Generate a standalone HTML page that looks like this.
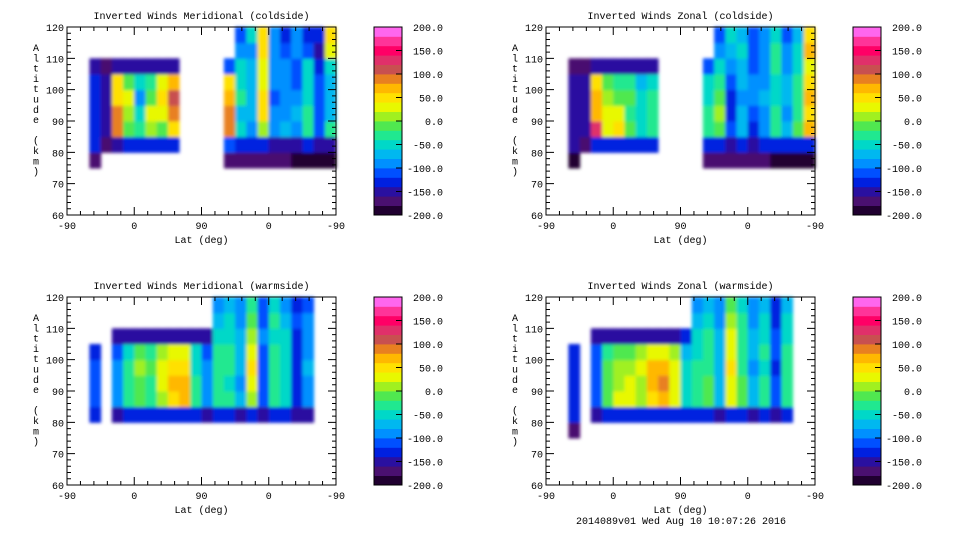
<!DOCTYPE html>
<html><head><meta charset="utf-8"><style>
body{margin:0;background:#fff;}
svg text{font-family:"Liberation Mono","DejaVu Sans Mono",monospace;font-size:10px;fill:#000;}
</style></head><body>
<svg id="chart" width="960" height="540" viewBox="0 0 960 540" xmlns="http://www.w3.org/2000/svg">
<defs><filter id="soft" x="-5%" y="-5%" width="110%" height="110%"><feGaussianBlur stdDeviation="1.6"/></filter></defs>
<text x="681" y="524" text-anchor="middle">2014089v01 Wed Aug 10 10:07:26 2016</text>
</svg>
<script>
const N = null;
// altitude bins (bottom edges, km), 5 km each
const altBins = [75,80,85,90,95,100,105,110,115];
// x position bins (0..360 covering -90..90..-90), 15 each
const xBins = [0,15,30,45,60,75,90,105,120,135,150,165,180,195,210,225,240,255,270,285,300,315,330,345];
const yTicks = [60,70,80,90,100,110,120];
const xTickLabels = ['-90','0','90','0','-90'];
const cbTicks = [200,150,100,50,0,-50,-100,-150,-200];
const titles = ['Inverted Winds Meridional (coldside)','Inverted Winds Zonal (coldside)','Inverted Winds Meridional (warmside)','Inverted Winds Zonal (warmside)'];
const E = [N,N,N,N,N,N,N,N,N];
// columns of values, bottom->top
const merCold = [E,E,
 [-180,-140,-130,-130,-130,-130,-150,N,N],
 [N,-170,-160,-150,-150,-150,-170,N,N],
 [N,-150,80,90,40,50,-150,N,N],
 [N,-140,-10,0,20,-10,-150,N,N],
 [N,-140,-40,-60,-90,-60,-150,N,N],
 [N,-140,0,20,-20,-40,-150,N,N],
 [N,-140,-10,30,40,20,-150,N,N],
 [N,-140,40,80,100,70,-150,N,N],
 E,E,E,E,
 [-170,-120,80,90,60,40,-120,N,N],
 [-170,-140,-60,-80,-40,-60,-60,-100,-120],
 [-180,-130,-90,-80,-70,-80,-80,-100,-60],
 [-180,-140,0,40,40,30,20,40,50],
 [-180,-150,-90,-100,-110,-100,-100,-90,-100],
 [-180,-150,-80,-90,-100,-100,-100,-120,-130],
 [-190,-150,-100,-80,-100,-110,-110,-100,-100],
 [-190,-140,-40,-40,-60,-60,-60,-120,-130],
 [-190,-150,-120,-110,-120,-110,-140,-150,-140],
 [-190,-150,-40,-80,-80,-80,-60,20,40]];
const zonCold = [E,E,
 [-190,-160,-150,-150,-150,-150,-170,N,N],
 [N,-170,-160,-150,-150,-160,-170,N,N],
 [N,-140,130,70,60,40,-150,N,N],
 [N,-140,30,20,0,-20,-150,N,N],
 [N,-140,40,20,-10,-30,-150,N,N],
 [N,-140,-20,-30,-20,-40,-150,N,N],
 [N,-140,-60,-60,-50,-70,-150,N,N],
 [N,-140,-30,-40,-40,-60,-150,N,N],
 E,E,E,E,
 [-170,-130,-40,-40,-50,-60,-120,N,N],
 [-180,-130,-10,0,-20,-30,-60,-100,-110],
 [-180,-150,-120,-140,-140,-120,-100,-80,-60],
 [-180,-140,-80,-80,-90,-80,-70,-60,-80],
 [-180,-150,-130,-120,-100,-100,-110,-120,-120],
 [-180,-140,-90,-90,-80,-90,-100,-90,-100],
 [-190,-140,-30,-30,-50,-60,-40,-40,-60],
 [-190,-140,-80,-90,-80,-80,-90,-100,-110],
 [-190,-140,-20,-40,-30,-40,-60,-60,-80],
 [-190,-140,60,40,60,50,20,60,40]];
const merWarm = [E,E,
 [N,-140,-120,-120,-120,-130,N,N,N],
 E,
 [N,-150,-100,-90,-100,-110,-160,N,N],
 [N,-140,-40,-30,-40,-50,-150,N,N],
 [N,-140,-20,-10,0,-20,-150,N,N],
 [N,-140,-30,-40,-20,-30,-150,N,N],
 [N,-140,0,20,20,0,-150,N,N],
 [N,-140,40,60,50,30,-150,N,N],
 [N,-140,60,70,50,20,-150,N,N],
 [N,-140,-40,-40,-50,-60,-150,N,N],
 [N,-150,-100,-90,-100,-110,-150,N,N],
 [N,-140,-30,-30,-40,-40,-50,-80,-100],
 [N,-140,-40,-50,-30,-40,-60,-60,-80],
 [N,-150,-80,-90,-80,-70,-80,-100,-100],
 [N,-140,0,30,40,20,0,-20,-40],
 [N,-150,-110,-110,-110,-120,-100,-110,-120],
 [N,-140,-30,-30,-40,-40,-50,-40,-60],
 [N,-140,-50,-60,-50,-50,-60,-80,-100],
 [N,-150,-140,-130,-140,-140,-130,-120,-140],
 [N,-150,-90,-90,-80,-90,-100,-100,-110],
 E,E];
const zonWarm = [E,E,
 [-180,-140,-130,-130,-130,-140,N,N,N],
 E,
 [N,-150,-120,-110,-120,-120,-160,N,N],
 [N,-140,-20,-10,-20,-40,-150,N,N],
 [N,-140,20,10,0,-20,-150,N,N],
 [N,-140,20,30,10,-10,-150,N,N],
 [N,-140,0,10,20,0,-150,N,N],
 [N,-140,40,60,60,20,-150,N,N],
 [N,-140,60,80,60,30,-150,N,N],
 [N,-140,20,30,20,0,-150,N,N],
 [N,-140,-60,-60,-60,-70,-140,N,N],
 [N,-140,-40,-40,-40,-50,-60,-80,-100],
 [N,-140,-20,-20,-30,-40,-40,-60,-80],
 [N,-150,-70,-70,-80,-70,-80,-90,-100],
 [N,-140,20,30,40,30,20,0,-20],
 [N,-140,-20,-20,-30,-30,-40,-40,-60],
 [N,-150,-80,-80,-90,-80,-80,-100,-100],
 [N,-140,-40,-40,-50,-40,-50,-60,-80],
 [N,-150,-120,-120,-130,-120,-120,-130,-140],
 [N,-140,-30,-30,-40,-40,-50,-60,-80],
 E,E];
const panelData = [merCold, zonCold, merWarm, zonWarm];
const palette = ['#200030','#4a1070','#2a10a0','#0020e0','#0050ff','#0090ff','#00b8f0','#00d8c8','#20e890','#50e850','#a0f020','#e8f800','#ffe000','#ffb800','#e88020','#c85050','#e0306a','#ff0066','#ff3399','#ff66ee'];

const svg = document.getElementById('chart');
const NS = 'http://www.w3.org/2000/svg';
function mk(tag, attrs){const e=document.createElementNS(NS,tag);for(const k in attrs)e.setAttribute(k,attrs[k]);return e;}
function colorFor(v){let i=Math.floor((v+200)/20);if(i<0)i=0;if(i>19)i=19;return palette[i];}
const origins = [[67,27],[546,27],[67,297],[546,297]];
const W=269,H=188;
panelData.forEach((cols,pi)=>{
  const [ox,oy]=origins[pi];
  const xs=p=>ox+p/360*W, ys=a=>oy+(120-a)/60*H;
  const g=mk('g',{});
  
  
  svg.appendChild(g);
  const t=mk('text',{x:ox+W/2,y:oy-8,'text-anchor':'middle'});
  
  
  t.textContent=titles[pi];g.appendChild(t);
  const cg=mk('g',{filter:'url(#soft)'});
  
  
  g.appendChild(cg);
  cols.forEach((col,ci)=>{col.forEach((v,ri)=>{if(v===null)return;
    const r=mk('rect',{x:xs(xBins[ci]),y:ys(altBins[ri]+5),width:xs(15)-xs(0)+0.5,height:ys(0)-ys(5)+0.5,fill:colorFor(v)});
    
    
    cg.appendChild(r);});});
  const fr=mk('rect',{x:ox,y:oy,width:W,height:H,fill:'none',stroke:'#000','stroke-width':1});
  
  
  g.appendChild(fr);
  let d='';
  for(let a=60;a<=120;a+=2){const y=ys(a),L=(a%10===0)?8:4;d+=`M${ox},${y}h${L}M${ox+W},${y}h${-L}`;}
  for(let p=0;p<=360;p+=18){const x=xs(p),L=(p%90===0)?8:4;d+=`M${x},${oy+H}v${-L}M${x},${oy}v${L}`;}
  const tk=mk('path',{d:d,stroke:'#000','stroke-width':1,fill:'none'});
  
  
  g.appendChild(tk);
  yTicks.forEach(a=>{const l=mk('text',{x:ox-3,y:ys(a)+4,'text-anchor':'end'});
    
    
    l.textContent=a;g.appendChild(l);});
  xTickLabels.forEach((s,i)=>{const l=mk('text',{x:xs(i*90),y:oy+H+14,'text-anchor':'middle'});
    
    
    l.textContent=s;g.appendChild(l);});
  const xl=mk('text',{x:ox+W/2,y:oy+H+28,'text-anchor':'middle'});
  
  
  xl.textContent='Lat (deg)';g.appendChild(xl);
  const yl=mk('text',{x:ox-31,y:oy+22,'text-anchor':'middle'});
  
  
  'Altitude (km)'.split('').forEach((ch,i)=>{const ts=mk('tspan',{x:ox-31,y:oy+24+i*10.3});ts.textContent=ch;yl.appendChild(ts);});
  g.appendChild(yl);
  // colorbar
  const cx=ox+307,cw=28;
  const cb=mk('g',{});
  
  
  g.appendChild(cb);
  const cs=v=>oy+(200-v)/400*H;
  palette.forEach((c,i)=>{const v0=-200+i*20;
    const r=mk('rect',{x:cx,y:cs(v0+20),width:cw,height:cs(0)-cs(20)+0.4,fill:c});
    
    
    cb.appendChild(r);});
  const cf=mk('rect',{x:cx,y:oy,width:cw,height:H,fill:'none',stroke:'#000'});
  
  
  cb.appendChild(cf);
  cbTicks.forEach(v=>{const l=mk('text',{x:ox+376,y:cs(v)+4,'text-anchor':'end'});
    
    
    l.textContent=v.toFixed(1);cb.appendChild(l);
    const tl=mk('path',{d:`M${cx+cw},${cs(v)}h-6`,stroke:'#000'});
    
    
    cb.appendChild(tl);});
});
</script>
</body></html>
